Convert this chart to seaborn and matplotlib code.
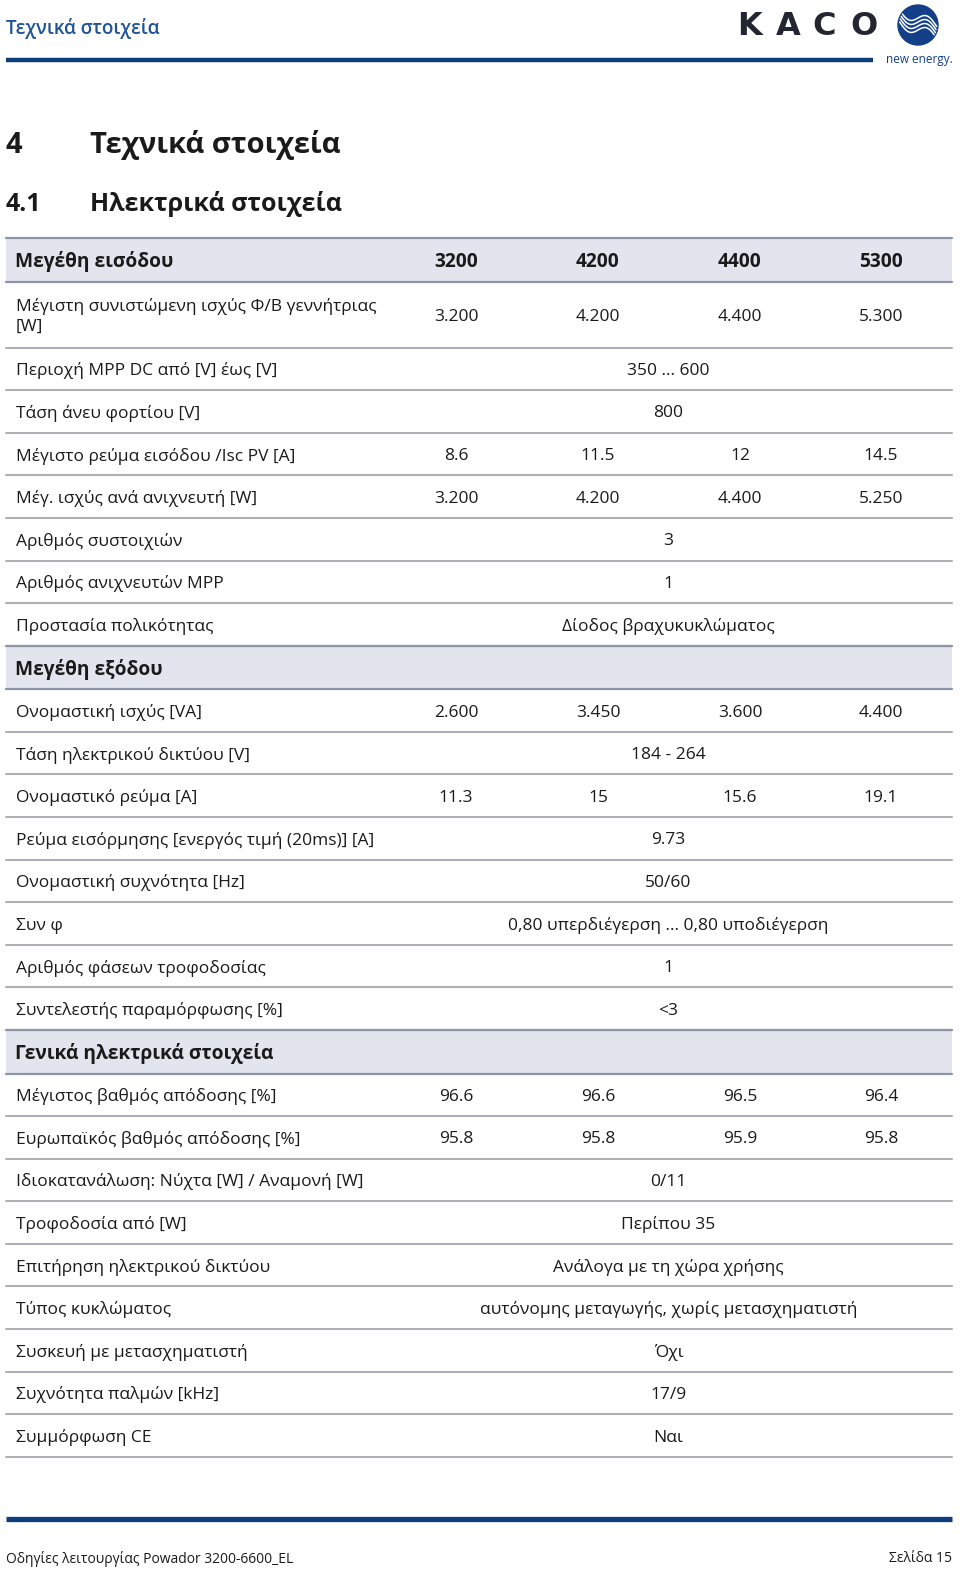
import numpy as np
import seaborn as sns
import matplotlib.pyplot as plt
from matplotlib.patches import Circle

# ---- table data -------------------------------------------------------
models = ["3200", "4200", "4400", "5300"]
sections = ["Μεγέθη εισόδου", "Μεγέθη εξόδου", "Γενικά ηλεκτρικά στοιχεία"]

input_labels = [
    "Μέγιστη συνιστώμενη ισχύς Φ/Β γεννήτριας\n[W]",
    "Περιοχή MPP DC από [V] έως [V]",
    "Τάση άνευ φορτίου [V]",
    "Μέγιστο ρεύμα εισόδου /Isc PV [A]",
    "Μέγ. ισχύς ανά ανιχνευτή [W]",
    "Αριθμός συστοιχιών",
    "Αριθμός ανιχνευτών MPP",
    "Προστασία πολικότητας",
]
input_values = [
    ["3.200", "4.200", "4.400", "5.300"],
    "350 ... 600",
    "800",
    ["8.6", "11.5", "12", "14.5"],
    ["3.200", "4.200", "4.400", "5.250"],
    "3",
    "1",
    "Δίοδος βραχυκυκλώματος",
]

output_labels = [
    "Ονομαστική ισχύς [VA]",
    "Τάση ηλεκτρικού δικτύου [V]",
    "Ονομαστικό ρεύμα [A]",
    "Ρεύμα εισόρμησης [ενεργός τιμή (20ms)] [A]",
    "Ονομαστική συχνότητα [Hz]",
    "Συν φ",
    "Αριθμός φάσεων τροφοδοσίας",
    "Συντελεστής παραμόρφωσης [%]",
]
output_values = [
    ["2.600", "3.450", "3.600", "4.400"],
    "184 - 264",
    ["11.3", "15", "15.6", "19.1"],
    "9.73",
    "50/60",
    "0,80 υπερδιέγερση ... 0,80 υποδιέγερση",
    "1",
    "<3",
]

general_labels = [
    "Μέγιστος βαθμός απόδοσης [%]",
    "Ευρωπαϊκός βαθμός απόδοσης [%]",
    "Ιδιοκατανάλωση: Νύχτα [W] / Αναμονή [W]",
    "Τροφοδοσία από [W]",
    "Επιτήρηση ηλεκτρικού δικτύου",
    "Τύπος κυκλώματος",
    "Συσκευή με μετασχηματιστή",
    "Συχνότητα παλμών [kHz]",
    "Συμμόρφωση CE",
]
general_values = [
    ["96.6", "96.6", "96.5", "96.4"],
    ["95.8", "95.8", "95.9", "95.8"],
    "0/11",
    "Περίπου 35",
    "Ανάλογα με τη χώρα χρήσης",
    "αυτόνομης μεταγωγής, χωρίς μετασχηματιστή",
    "Όχι",
    "17/9",
    "Ναι",
]

# ---- style -------------------------------------------------------------
sns.set_theme(style="white")
plt.rcParams["font.family"] = ["Open Sans", "DejaVu Sans"]

navy = "#0e3d7c"
band = "#e3e5ee"
band_line = "#8e94a8"
row_line = "#b0b1b6"
txt = "#1a1a1a"
dy = 2  # Open Sans sits a little high with va="center"

fig = plt.figure(figsize=(9.6, 15.71), dpi=100)
ax = fig.add_axes([0, 0, 1, 1])
ax.set_xlim(0, 960)
ax.set_ylim(1571, 0)
ax.axis("off")

# ---- page header -------------------------------------------------------
ax.text(6, 26 + dy, "Τεχνικά στοιχεία", fontsize=13.5, color="#1f5596",
        fontweight="semibold", va="center", ha="left")
ax.plot([6, 873], [60, 60], color=navy, lw=3.2, solid_capstyle="butt")
for letter, lx in zip("KACO", [750, 788, 824, 864]):
    ax.text(lx, 26, letter, fontsize=23, fontweight="bold", color="#222630",
            ha="center", va="center",
            family=["DejaVu Sans Condensed", "Liberation Sans Narrow",
                    "DejaVu Sans"])
ax.add_patch(Circle((918, 25), 20, color="#123f88", zorder=3))
t = np.linspace(-1, 1, 120)
for off in [-7, -3, 1, 5]:
    xs = 918 + 19 * t
    ys = 25 + off - 6.3 * np.sin(np.pi * t) + 9 * t
    inside = (xs - 918) ** 2 + (ys - 25) ** 2 < 19 ** 2
    ax.plot(np.where(inside, xs, np.nan), ys, color="white", lw=1.1, zorder=4)
ax.text(886, 59, "new energy.", fontsize=8.5, color="#123f88",
        va="center", ha="left")

# ---- chapter headings --------------------------------------------------
ax.text(6, 143 + dy, "4", fontsize=21, fontweight="bold", color=txt,
        va="center")
ax.text(90, 143 + dy, "Τεχνικά στοιχεία", fontsize=21, fontweight="bold",
        color=txt, va="center")
ax.text(6, 202 + dy, "4.1", fontsize=18, fontweight="bold", color=txt,
        va="center")
ax.text(90, 202 + dy, "Ηλεκτρικά στοιχεία", fontsize=18, fontweight="bold",
        color=txt, va="center")

# ---- table -------------------------------------------------------------
x0, x1 = 6, 952
col_x = [456, 598, 740, 881]
merged_x = (col_x[0] + col_x[-1]) / 2
row_h = 42.6
band_h = 43.5
fs = 12.5

blocks = [
    (sections[0], input_labels, input_values, True),
    (sections[1], output_labels, output_values, False),
    (sections[2], general_labels, general_values, False),
]

y = 238
for title, labels, values, show_models in blocks:
    ax.axhspan(y, y + band_h, xmin=x0 / 960, xmax=x1 / 960, color=band, lw=0)
    ax.plot([x0, x1], [y, y], color=band_line, lw=1.6)
    ax.plot([x0, x1], [y + band_h, y + band_h], color=band_line, lw=1.6)
    ax.text(15, y + band_h / 2 + dy, title, fontsize=13.8, fontweight="bold",
            color=txt, va="center")
    if show_models:
        for cx, m in zip(col_x, models):
            ax.text(cx, y + band_h / 2 + dy, m, fontsize=13.8,
                    fontweight="bold", color=txt, va="center", ha="center")
    y += band_h
    for lab, val in zip(labels, values):
        h = 66 if "\n" in lab else row_h
        cy = y + h / 2 + dy
        ax.text(16, cy, lab, fontsize=fs, color=txt, va="center", ha="left",
                linespacing=1.3)
        if isinstance(val, list):
            for cx, v in zip(col_x, val):
                ax.text(cx, cy, v, fontsize=fs, color=txt, va="center",
                        ha="center")
        else:
            ax.text(merged_x, cy, val, fontsize=fs, color=txt, va="center",
                    ha="center")
        y += h
        ax.plot([x0, x1], [y, y], color=row_line, lw=1.5)

# ---- footer ------------------------------------------------------------
ax.plot([6, 952], [1519, 1519], color=navy, lw=3.8, solid_capstyle="butt")
ax.text(6, 1557 + dy, "Οδηγίες λειτουργίας Powador 3200-6600_EL",
        fontsize=10, color=txt, va="center", ha="left")
ax.text(952, 1557 + dy, "Σελίδα 15", fontsize=10, color=txt, va="center",
        ha="right")

fig.savefig("out.png", dpi=100)
plt.close(fig)
